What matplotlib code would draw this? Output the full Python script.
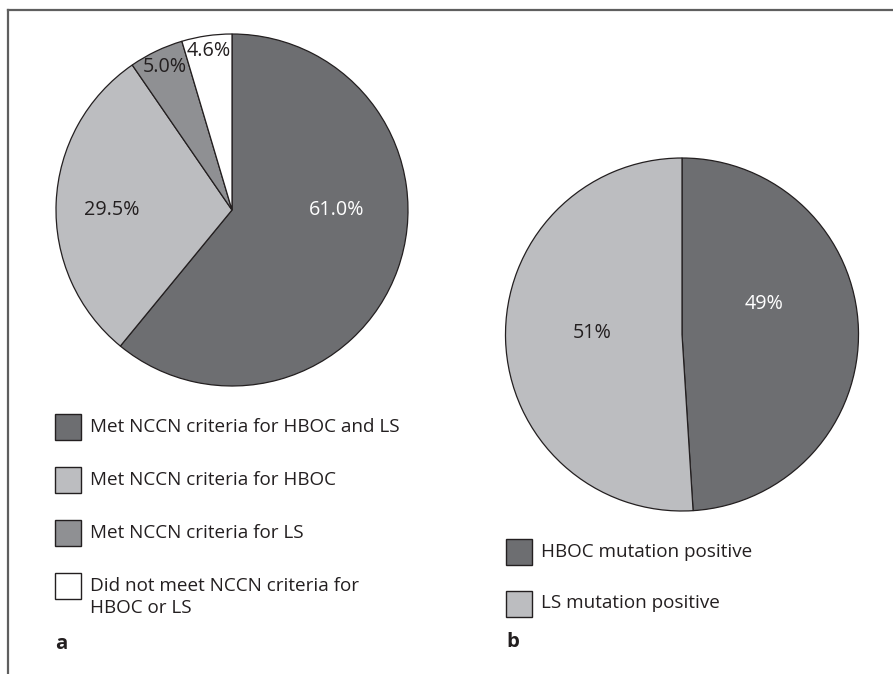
import matplotlib
matplotlib.use("Agg")
import matplotlib.pyplot as plt
from matplotlib.patches import Rectangle
from matplotlib.lines import Line2D

# panel a: NCCN criteria
criteria_labels = [
    "Met NCCN criteria for HBOC and LS",
    "Met NCCN criteria for HBOC",
    "Met NCCN criteria for LS",
    "Did not meet NCCN criteria for\nHBOC or LS",
]
criteria_pct = [61.0, 29.5, 5.0, 4.6]

# panel b: mutation type
mutation_labels = ["HBOC mutation positive", "LS mutation positive"]
mutation_pct = [49, 51]

DARK = "#6d6e71"
LIGHT = "#bcbdc0"
MID = "#8f9093"
WHITE = "#ffffff"
INK = "#231f20"
criteria_colors = [DARK, LIGHT, MID, WHITE]
mutation_colors = [DARK, LIGHT]
criteria_text_colors = ["white", INK, INK, INK]
mutation_text_colors = ["white", INK]

# label positions inside the pies (pie units, radius = 1)
criteria_label_pos = [(0.594, 0.0), (-0.685, 0.0), (-0.38, 0.81), (-0.134, 0.906)]
mutation_label_pos = [(0.465, 0.17), (-0.51, 0.01)]

W, H = 893, 674
FS = 13.6
PIE_FS = 14.2
plt.rcParams["font.family"] = ["Open Sans", "DejaVu Sans"]


def pie_axes(fig, cx, cy, r):
    return fig.add_axes([(cx - r) / W, (H - cy - r) / H, 2 * r / W, 2 * r / H])


def draw_pie(ax, values, colors, labels, text_colors, positions):
    wedges, texts = ax.pie(
        values, colors=colors, labels=labels, startangle=90, counterclock=False,
        wedgeprops=dict(edgecolor=INK, linewidth=0.9, clip_on=False),
        textprops=dict(fontsize=PIE_FS),
    )
    for t, c, p in zip(texts, text_colors, positions):
        t.set_position(p)
        t.set_color(c)
        t.set_ha("center")
        t.set_va("center")
    ax.set_xlim(-1, 1)
    ax.set_ylim(-1, 1)
    ax.set_aspect("equal")
    ax.axis("off")


def draw_legend(fig, x, ys, labels, colors, panel, panel_y):
    for y, lab, col in zip(ys, labels, colors):
        fig.patches.append(Rectangle(((x) / W, (H - y - 13) / H), 26 / W, 26 / H,
                                     transform=fig.transFigure, facecolor=col,
                                     edgecolor=INK, linewidth=1.0))
        lines = lab.split("\n")
        for i, line in enumerate(lines):
            fig.text((x + 35) / W, (H - y - 22 * i) / H, line, fontsize=FS,
                     color=INK, ha="left", va="center")
    fig.text(x / W, (H - panel_y) / H, panel, fontsize=FS + 1, fontweight="bold",
             color=INK, ha="left", va="center")


def main():
    fig = plt.figure(figsize=(W / 100, H / 100), dpi=100)

    ax_a = pie_axes(fig, 232, 210, 176)
    draw_pie(ax_a, criteria_pct, criteria_colors,
             [f"{v:.1f}%" for v in criteria_pct], criteria_text_colors, criteria_label_pos)

    ax_b = pie_axes(fig, 682, 334.5, 176.5)
    draw_pie(ax_b, mutation_pct, mutation_colors,
             [f"{v}%" for v in mutation_pct], mutation_text_colors, mutation_label_pos)

    draw_legend(fig, 55, [427, 480, 533, 586], criteria_labels, criteria_colors, "a", 644)
    draw_legend(fig, 506, [552, 603.5], mutation_labels, mutation_colors, "b", 642)

    # frame lines (top and left only)
    fig.add_artist(Line2D([8 / W, 1], [1 - 10 / H, 1 - 10 / H], color="#5f5f5f",
                          linewidth=1.6, transform=fig.transFigure))
    fig.add_artist(Line2D([8 / W, 8 / W], [0, 1 - 10 / H], color="#5f5f5f",
                          linewidth=1.6, transform=fig.transFigure))

    fig.savefig("out.png", dpi=100, facecolor="white")
    plt.close(fig)


if __name__ == "__main__":
    main()
